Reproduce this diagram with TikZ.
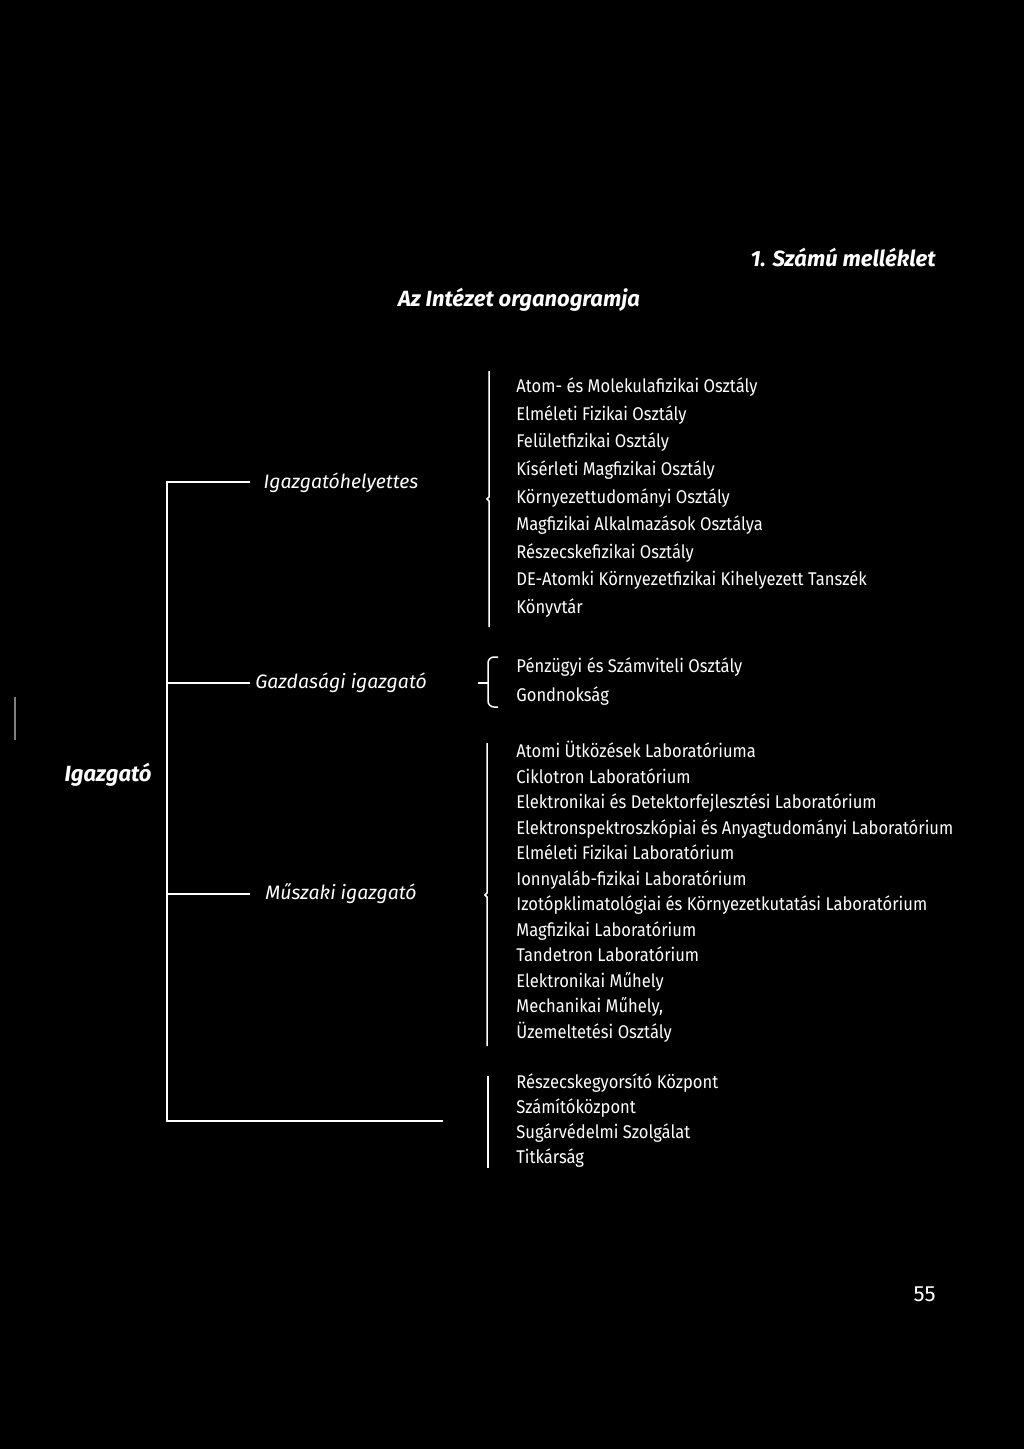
\documentclass[tikz,border=0pt]{standalone}
\usepackage{fontspec}
\setmainfont{Fira Sans}
\newfontfamily\listfont{Fira Sans}[FakeStretch=0.9]
\usepackage{tikz}
\usetikzlibrary{calc}

\tikzset{
	item/.style={anchor=west, inner sep=0pt, text=white, text height=6.6pt, text depth=2pt,
		font=\listfont\fontsize{9.2}{11}\selectfont},
	boss/.style={inner sep=0pt, text=white, font=\fontsize{9.7}{11}\selectfont\itshape},
	title/.style={inner sep=0pt, text=white, font=\fontsize{11}{13}\selectfont\bfseries\itshape},
	link/.style={draw=white, line width=1pt},
	bar/.style={draw=white, line width=0.75pt}
}

\begin{document}
\begin{tikzpicture}[x=0.5pt,y=-0.5pt]
		\fill[black] (0,0) rectangle (1024,1449);
		\useasboundingbox (0,0) rectangle (1024,1449);
		
		\node[title, anchor=east] (num) at (936,258) {1. Számú melléklet};
		\node[title] (head) at (519,300) {Az Intézet organogramja};
		
		\node[title, anchor=east] (dir) at (152,775) {Igazgató};
		\node[boss] (dep) at (341,483) {Igazgatóhelyettes};
		\node[boss] (eco) at (341,683) {Gazdasági igazgató};
		\node[boss] (tech) at (341,894) {Műszaki igazgató};
		
		\coordinate (j1) at (167,482);
		\coordinate (j2) at (167,683);
		\coordinate (j3) at (167,894);
		\coordinate (j4) at (167,1121);
		\coordinate (e1) at (250,482);
		\coordinate (e2) at (250,683);
		\coordinate (e3) at (250,894);
		\coordinate (e4) at (443,1121);
		
		\draw[link] (e1) -- (j1) -- (j4) -- (e4);
		\draw[link] (j2) -- (e2);
		\draw[link] (j3) -- (e3);
		
		% osztalyok
		\foreach \t [count=\i] in {Atom- és Molekulafizikai Osztály, Elméleti Fizikai Osztály,
			Felületfizikai Osztály, Kísérleti Magfizikai Osztály, Környezettudományi Osztály,
			Magfizikai Alkalmazások Osztálya, Részecskefizikai Osztály,
			DE-Atomki Környezetfizikai Kihelyezett Tanszék, Könyvtár}
			\node[item] (a\i) at (516,{388+27.6*(\i-1)}) {\t};
		\draw[bar] (489,371) -- (489,497) -- (487,499) -- (489,501) -- (489,627);
		
		\foreach \t [count=\i] in {Pénzügyi és Számviteli Osztály, Gondnokság}
			\node[item] (b\i) at (516,{668+29*(\i-1)}) {\t};
		\draw[bar, rounded corners=3] (498,657) -- (488,657) -- (488,683) -- (488,707) -- (498,707);
		\draw[bar] (478,683) -- (488,683);
		
		% laboratoriumok
		\foreach \t [count=\i] in {Atomi Ütközések Laboratóriuma, Ciklotron Laboratórium,
			Elektronikai és Detektorfejlesztési Laboratórium,
			Elektronspektroszkópiai és Anyagtudományi Laboratórium,
			Elméleti Fizikai Laboratórium, Ionnyaláb-fizikai Laboratórium,
			Izotópklimatológiai és Környezetkutatási Laboratórium,
			Magfizikai Laboratórium, Tandetron Laboratórium, Elektronikai Műhely,
			{Mechanikai Műhely,}, Üzemeltetési Osztály}
			\node[item] (c\i) at (516,{753+25.5*(\i-1)}) {\t};
		\draw[bar] (487,743) -- (487,893) -- (485,895) -- (487,897) -- (487,1046);
		
		\foreach \t [count=\i] in {Részecskegyorsító Központ, Számítóközpont,
			Sugárvédelmi Szolgálat, Titkárság}
			\node[item] (d\i) at (516,{1084+25*(\i-1)}) {\t};
		\draw[bar] (488,1076) -- (488,1168);
		
		\draw[gray, line width=0.6pt] (15,697) -- (15,740);
		\node[inner sep=0pt, text=white, anchor=east, font=\fontsize{11}{13}\selectfont] (page) at (936,1294) {55};
	\end{tikzpicture}
\end{document}
